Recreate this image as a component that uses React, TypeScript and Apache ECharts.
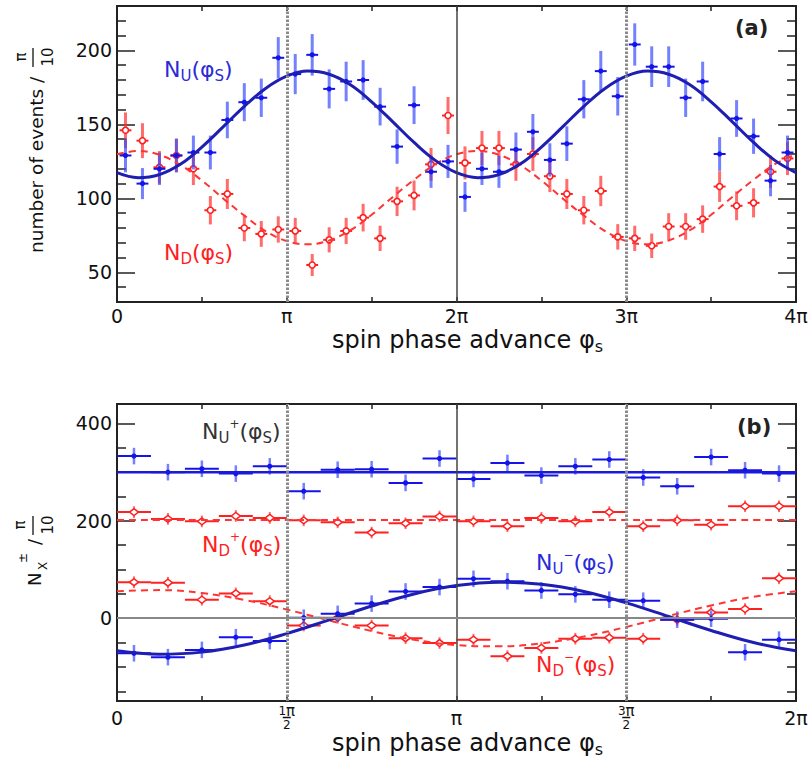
import React, { useEffect, useRef } from 'react';
import * as echarts from 'echarts';

const FONT = 'DejaVu Sans';

// ---------- Panel (a): counts per π/10 bin, x in units of π ----------
const BIN_WIDTH = 0.1; // π/10
const N_U_A = [129, 110, 120, 129, 131, 131, 153, 165, 168, 195, 184, 197, 174, 179, 180, 162, 135, 163, 118, 125,
  101, 120, 118, 133, 145, 126, 137, 167, 186, 169, 204, 189, 189, 168, 179, 130, 154, 142, 112, 131];
const N_D_A = [146, 139, 121, 129, 120, 92, 103, 80, 76, 79, 78, 55, 72, 78, 87, 73, 98, 102, 123, 156,
  124, 134, 134, 123, 130, 115, 103, 92, 105, 74, 73, 68, 81, 81, 86, 108, 95, 97, 118, 127];
const FIT_PHI_A = [0, 0.125, 0.25, 0.375, 0.5, 0.625, 0.75, 0.875, 1, 1.125, 1.25, 1.375, 1.5, 1.625, 1.75, 1.875,
  2, 2.125, 2.25, 2.375, 2.5, 2.625, 2.75, 2.875, 3, 3.125, 3.25, 3.375, 3.5, 3.625, 3.75, 3.875, 4];
const FIT_U_A = [117.4, 114.0, 116.1, 123.2, 134.7, 148.3, 162.2, 174.3, 182.6, 186.0, 183.9, 176.8, 165.3, 151.7, 137.8, 125.7,
  117.4, 114.0, 116.1, 123.2, 134.7, 148.3, 162.2, 174.3, 182.6, 186.0, 183.9, 176.8, 165.3, 151.7, 137.8, 125.7, 117.4];
const FIT_D_A = [129.8, 132.0, 129.4, 122.5, 112.1, 100.0, 88.4, 77.9, 71.2, 69.0, 71.6, 78.5, 88.9, 101.0, 112.6, 123.1,
  129.8, 132.0, 129.4, 122.5, 112.1, 100.0, 88.4, 77.9, 71.2, 69.0, 71.6, 78.5, 88.9, 101.0, 112.6, 123.1, 129.8];

// ---------- Panel (b) ----------
const NU_PLUS_B = [333, 300, 307, 297, 312, 261, 305, 306, 278, 328, 286, 319, 293, 312, 326, 289, 271, 331, 304, 297];
const ND_PLUS_B = [218, 204, 199, 210, 206, 201, 197, 176, 195, 209, 199, 189, 206, 199, 218, 189, 201, 192, 230, 230];
const NU_MINUS_B = [-72, -80, -65, -39, -47, 1, 9, 30, 55, 64, 81, 76, 57, 49, 38, 36, -3, -1, -70, -44];
const ND_MINUS_B = [74, 73, 38, 51, 35, -15, 1, -15, -41, -51, -44, -78, -61, -42, -40, -42, -3, 12, 19, 82];
const ERR_BLUE_B = 17;
const ERR_RED_B = 12;
const FIT_PHI_FLAT_B = [0, 2];
const FIT_NU_PLUS_B = [300, 300];
const FIT_ND_PLUS_B = [202, 202];
const FIT_PHI_B = [0, 0.125, 0.25, 0.375, 0.5, 0.625, 0.75, 0.875, 1, 1.125, 1.25, 1.375, 1.5, 1.625, 1.75, 1.875, 2];
const FIT_NU_MINUS_B = [-67.0, -73.9, -69.6, -55.0, -31.5, -3.5, 25.1, 49.9, 67.0, 73.9, 69.6, 55.0, 31.5, 3.5, -25.1, -49.9, -67.0];
const FIT_ND_MINUS_B = [55.2, 57.8, 51.7, 37.7, 17.9, -4.6, -26.3, -44.1, -55.2, -57.8, -51.7, -37.7, -17.9, 4.6, 26.3, 44.1, 55.2];

// ---------- Axes ----------
const X_LABEL_POS_A = [0, 1, 2, 3, 4];
const X_LABEL_TXT_A = ['0', 'π', '2π', '3π', '4π'];
const X_LABEL_POS_B = [0, 0.5, 1, 1.5, 2];
const X_LABEL_TXT_B = ['{v|0}', '{n|1}{p|π}\n{bar| }\n{n|2}', '{v|π}', '{n|3}{p|π}\n{bar| }\n{n|2}', '{v|2π}'];
const Y_MAJOR_A = [50, 100, 150, 200];
const Y_MINOR_A = [40, 60, 70, 80, 90, 110, 120, 130, 140, 160, 170, 180, 190, 210, 220];
const Y_MAJOR_B = [0, 200, 400];
const Y_MINOR_B = [-150, -100, -50, 50, 100, 150, 250, 300, 350];
const DOTTED_A = [1, 3];
const SOLID_A = [2];
const DOTTED_B = [0.5, 1.5];
const SOLID_B = [1];
const ZERO_B = [0];

const BLUE = '#1414e8';
const BLUE_BAR = 'rgba(50,70,255,0.68)';
const BLUE_FIT = '#1e1eb2';
const BLUE_TXT = '#2a2ad8';
const RED = '#ff2020';
const RED_BAR = 'rgba(255,45,45,0.7)';
const RED_FIT = '#ff3535';
const AXIS = '#222';
const TXT = '#111';

function errRender(xHalf: number, color: string, barColor: string, marker: string, vw: number, hw: number) {
  return (params: any, api: any) => {
    const x = api.value(0), y = api.value(1), e = api.value(2);
    const c = api.coord([x, y]);
    const l = api.coord([x - xHalf, y]);
    const r = api.coord([x + xHalf, y]);
    const t = api.coord([x, y + e]);
    const b = api.coord([x, y - e]);
    const children: any[] = [
      { type: 'line', shape: { x1: c[0], y1: t[1], x2: c[0], y2: b[1] }, style: { stroke: barColor, lineWidth: vw } },
      { type: 'line', shape: { x1: l[0], y1: c[1], x2: r[0], y2: c[1] }, style: { stroke: color, lineWidth: hw } },
    ];
    if (marker === 'dot') {
      children.push({ type: 'circle', shape: { cx: c[0], cy: c[1], r: 2.6 }, style: { fill: color } });
    } else if (marker === 'ring') {
      children.push({ type: 'circle', shape: { cx: c[0], cy: c[1], r: 3 }, style: { fill: '#fff', stroke: color, lineWidth: 1.6 } });
    } else {
      children.push({
        type: 'polygon',
        shape: { points: [[c[0] - 4.5, c[1]], [c[0], c[1] - 3.5], [c[0] + 4.5, c[1]], [c[0], c[1] + 3.5]] },
        style: { fill: '#fff', stroke: color, lineWidth: 1.5 },
      });
    }
    return { type: 'group', children };
  };
}

function xAxes(gridIndex: number, max: number, interval: number, pos: number[], txt: string[], margin: number, rich: any, nameGap: number) {
  const common: any = {
    type: 'value', gridIndex, min: 0, max, interval,
    splitLine: { show: false },
    axisLine: { show: true, onZero: false, lineStyle: { color: AXIS, width: 2 } },
    axisTick: { show: true, inside: true, length: 5, lineStyle: { color: AXIS, width: 1.5 } },
  };
  return [
    {
      ...common, position: 'bottom',
      axisLabel: {
        show: true, margin, fontSize: 19, fontFamily: FONT, color: TXT, showMinLabel: true, showMaxLabel: true, rich,
        formatter: (v: number) => { const i = pos.indexOf(Math.round(v * 1000) / 1000); return i >= 0 ? txt[i] : ''; },
      },
      name: '{m|spin phase advance φ}{s|s}', nameLocation: 'middle', nameGap, nameMoveOverlap: false,
      nameTextStyle: {
        fontSize: 24, fontFamily: FONT, color: TXT, padding: [0, 0, 0, 22],
        rich: {
          m: { fontSize: 24, fontFamily: FONT, color: TXT, lineHeight: 24 },
          s: { fontSize: 16, fontFamily: FONT, color: TXT, lineHeight: 10, padding: [12, 0, 0, 0] },
        },
      },
    },
    { ...common, position: 'top', axisLabel: { show: false } },
  ];
}

function yAxes(gridIndex: number, min: number, max: number, majors: number[], minors: number[]) {
  const tick = { show: true, inside: true, lineStyle: { color: AXIS, width: 1.5 } };
  const common: any = {
    type: 'value', gridIndex, min, max, splitLine: { show: false },
    axisLine: { show: true, onZero: false, lineStyle: { color: AXIS, width: 2 } },
    axisLabel: { show: false },
  };
  return [
    {
      ...common, position: 'left',
      axisLabel: { show: true, customValues: majors, margin: 5, fontSize: 19, fontFamily: FONT, color: TXT },
      axisTick: { ...tick, customValues: majors, length: 18 },
    },
    { ...common, position: 'left', axisTick: { ...tick, customValues: minors, length: 9 } },
    { ...common, position: 'right', axisTick: { ...tick, customValues: majors, length: 18 } },
    { ...common, position: 'right', axisTick: { ...tick, customValues: minors, length: 9 } },
  ];
}

function refLines(xAxisIndex: number, yAxisIndex: number, data: any[], color: string, width: number, type: any) {
  return {
    type: 'line', xAxisIndex, yAxisIndex, data: [], silent: true,
    markLine: {
      silent: true, symbol: ['none', 'none'], label: { show: false }, animation: false,
      lineStyle: { color, width, type, opacity: 1 },
      emphasis: { disabled: true },
      data,
    },
  };
}

function fitSeries(xAxisIndex: number, yAxisIndex: number, xs: number[], ys: number[], color: string, width: number, type: any) {
  return {
    type: 'line', xAxisIndex, yAxisIndex, smooth: 0.4, showSymbol: false, silent: true,
    data: xs.map((x, i) => [x, ys[i]]),
    lineStyle: { color, width, type },
    emphasis: { disabled: true },
  };
}

function pointSeries(xAxisIndex: number, yAxisIndex: number, vals: number[], err: (v: number) => number,
  xHalf: number, color: string, barColor: string, marker: string, vw: number, hw: number) {
  return {
    type: 'custom', xAxisIndex, yAxisIndex, silent: true,
    encode: { x: 0, y: 1 },
    data: vals.map((v, i) => [(i + 0.5) * BIN_WIDTH, v, err(v)]),
    renderItem: errRender(xHalf, color, barColor, marker, vw, hw),
  };
}

// in-plot label: N_sub(φ_S) with optional superscript after the subscript
function labelText(x: number, y: number, sub: string, sup: string, color: string) {
  const text = '{m|N}{s|' + sub + '}' + (sup ? '{p|' + sup + '}' : '') + '{m|(φ}{s|S}{m|)}';
  return {
    type: 'text', x, y, silent: true, z: 10,
    style: {
      text, fill: color, fontSize: 22, fontFamily: FONT, align: 'left', verticalAlign: 'middle',
      rich: {
        m: { fontSize: 22, fontFamily: FONT, fill: color, lineHeight: 26 },
        s: { fontSize: 15, fontFamily: FONT, fill: color, lineHeight: 10, padding: [13, 0, 0, 0] },
        p: { fontSize: 12, fontFamily: FONT, fill: color, lineHeight: 10, padding: [0, 0, 14, 0] },
      },
    },
  };
}

function buildOption(): any {
  const richB = {
    v: { fontSize: 19, fontFamily: FONT, color: TXT, lineHeight: 19, padding: [6, 0, 0, 0] },
    n: { fontSize: 12, fontFamily: FONT, color: TXT, lineHeight: 11 },
    p: { fontSize: 15, fontFamily: FONT, color: TXT, lineHeight: 11 },
    bar: { fontSize: 1, width: 8, height: 1.5, lineHeight: 3, backgroundColor: TXT },
  };
  return {
    animation: false,
    backgroundColor: '#fff',
    grid: [
      { left: 117, top: 6, width: 679, height: 296, containLabel: false, outerBoundsMode: 'none' },
      { left: 117, top: 404, width: 679, height: 297, containLabel: false, outerBoundsMode: 'none' },
    ],
    xAxis: [
      ...xAxes(0, 4, 0.5, X_LABEL_POS_A, X_LABEL_TXT_A, 4, {}, 26),
      ...xAxes(1, 2, 0.25, X_LABEL_POS_B, X_LABEL_TXT_B, 4, richB, 30),
    ],
    yAxis: [
      ...yAxes(0, 30, 230, Y_MAJOR_A, Y_MINOR_A),
      ...yAxes(1, -170, 440, Y_MAJOR_B, Y_MINOR_B),
    ],
    series: [
      // panel (a)
      refLines(0, 0, DOTTED_A.map((v) => ({ xAxis: v })), '#8a8a8a', 3, [2.5, 1.5]),
      refLines(0, 0, SOLID_A.map((v) => ({ xAxis: v })), '#444', 1.5, 'solid'),
      pointSeries(0, 0, N_D_A, (v) => Math.sqrt(v), 0.035, RED, RED_BAR, 'ring', 3, 2),
      pointSeries(0, 0, N_U_A, (v) => Math.sqrt(v), 0.035, BLUE, BLUE_BAR, 'dot', 3, 2),
      fitSeries(0, 0, FIT_PHI_A, FIT_D_A, RED_FIT, 2, [7, 5]),
      fitSeries(0, 0, FIT_PHI_A, FIT_U_A, BLUE_FIT, 3, 'solid'),
      // panel (b)
      refLines(2, 4, DOTTED_B.map((v) => ({ xAxis: v })), '#8a8a8a', 3, [2.5, 1.5]),
      refLines(2, 4, SOLID_B.map((v) => ({ xAxis: v })), '#444', 1.5, 'solid'),
      refLines(2, 4, ZERO_B.map((v) => ({ yAxis: v })), '#888', 2, 'solid'),
      pointSeries(2, 4, ND_PLUS_B, () => ERR_RED_B, 0.05, RED, RED_BAR, 'diamond', 2, 2),
      pointSeries(2, 4, NU_PLUS_B, () => ERR_BLUE_B, 0.05, BLUE, BLUE_BAR, 'dot', 2.5, 2),
      pointSeries(2, 4, ND_MINUS_B, () => ERR_RED_B, 0.05, RED, RED_BAR, 'diamond', 2, 2),
      pointSeries(2, 4, NU_MINUS_B, () => ERR_BLUE_B, 0.05, BLUE, BLUE_BAR, 'dot', 2.5, 2),
      fitSeries(2, 4, FIT_PHI_FLAT_B, FIT_ND_PLUS_B, RED_FIT, 2, [7, 5]),
      fitSeries(2, 4, FIT_PHI_FLAT_B, FIT_NU_PLUS_B, '#1a1ad8', 2.5, 'solid'),
      fitSeries(2, 4, FIT_PHI_B, FIT_ND_MINUS_B, RED_FIT, 2, [7, 5]),
      fitSeries(2, 4, FIT_PHI_B, FIT_NU_MINUS_B, BLUE_FIT, 3, 'solid'),
    ],
    graphic: [
      labelText(164, 69, 'U', '', BLUE_TXT),
      labelText(164, 252, 'D', '', RED),
      {
        type: 'text', x: 735, y: 28, silent: true, z: 10,
        style: { text: '(a)', fill: '#222', fontSize: 21, fontWeight: 'bold', fontFamily: FONT, align: 'left', verticalAlign: 'middle' },
      },
      labelText(202, 431, 'U', '+', '#333'),
      labelText(202, 544, 'D', '+', RED),
      labelText(536, 562, 'U', '−', BLUE_TXT),
      labelText(536, 664, 'D', '−', RED),
      {
        type: 'text', x: 737, y: 427, silent: true, z: 10,
        style: { text: '(b)', fill: '#222', fontSize: 21, fontWeight: 'bold', fontFamily: FONT, align: 'left', verticalAlign: 'middle' },
      },
      // y-axis title, panel (a)
      {
        type: 'group', x: 43, y: 253, rotation: Math.PI / 2, silent: true,
        children: [
          { type: 'text', x: 0, y: -6.5, style: { text: 'number of events /', fontSize: 18.5, fontFamily: FONT, fill: TXT, align: 'left', verticalAlign: 'middle' } },
          { type: 'text', x: 196, y: -22, style: { text: 'π', fontSize: 15, fontFamily: FONT, fill: TXT, align: 'center', verticalAlign: 'middle' } },
          { type: 'line', shape: { x1: 186, y1: -10, x2: 205, y2: -10 }, style: { stroke: TXT, lineWidth: 1.3 } },
          { type: 'text', x: 196, y: 5, style: { text: '10', fontSize: 15, fontFamily: FONT, fill: TXT, align: 'center', verticalAlign: 'middle' } },
        ],
      },
      // y-axis title, panel (b)
      {
        type: 'group', x: 41, y: 586, rotation: Math.PI / 2, silent: true,
        children: [
          { type: 'text', x: 0, y: -6.3, style: { text: 'N', fontSize: 18, fontFamily: FONT, fill: TXT, align: 'left', verticalAlign: 'middle' } },
          { type: 'text', x: 20, y: 2, style: { text: 'X', fontSize: 12, fontFamily: FONT, fill: TXT, align: 'center', verticalAlign: 'middle' } },
          { type: 'text', x: 28, y: -18, style: { text: '±', fontSize: 12, fontFamily: FONT, fill: TXT, align: 'center', verticalAlign: 'middle' } },
          { type: 'text', x: 44, y: -6.3, style: { text: '/', fontSize: 18, fontFamily: FONT, fill: TXT, align: 'center', verticalAlign: 'middle' } },
          { type: 'text', x: 61, y: -21, style: { text: 'π', fontSize: 15, fontFamily: FONT, fill: TXT, align: 'center', verticalAlign: 'middle' } },
          { type: 'line', shape: { x1: 51, y1: -8, x2: 70, y2: -8 }, style: { stroke: TXT, lineWidth: 1.3 } },
          { type: 'text', x: 61, y: 7, style: { text: '10', fontSize: 15, fontFamily: FONT, fill: TXT, align: 'center', verticalAlign: 'middle' } },
        ],
      },
    ],
  };
}

export default function App() {
  const ref = useRef<HTMLDivElement>(null);
  useEffect(() => {
    const chart = echarts.init(ref.current as HTMLDivElement, null, { renderer: 'svg' });
    chart.setOption(buildOption());
    return () => chart.dispose();
  }, []);
  return (
    <div
      ref={ref}
      style={{ position: 'absolute', left: 0, top: 0, width: 811, height: 761, background: '#fff' }}
    />
  );
}
